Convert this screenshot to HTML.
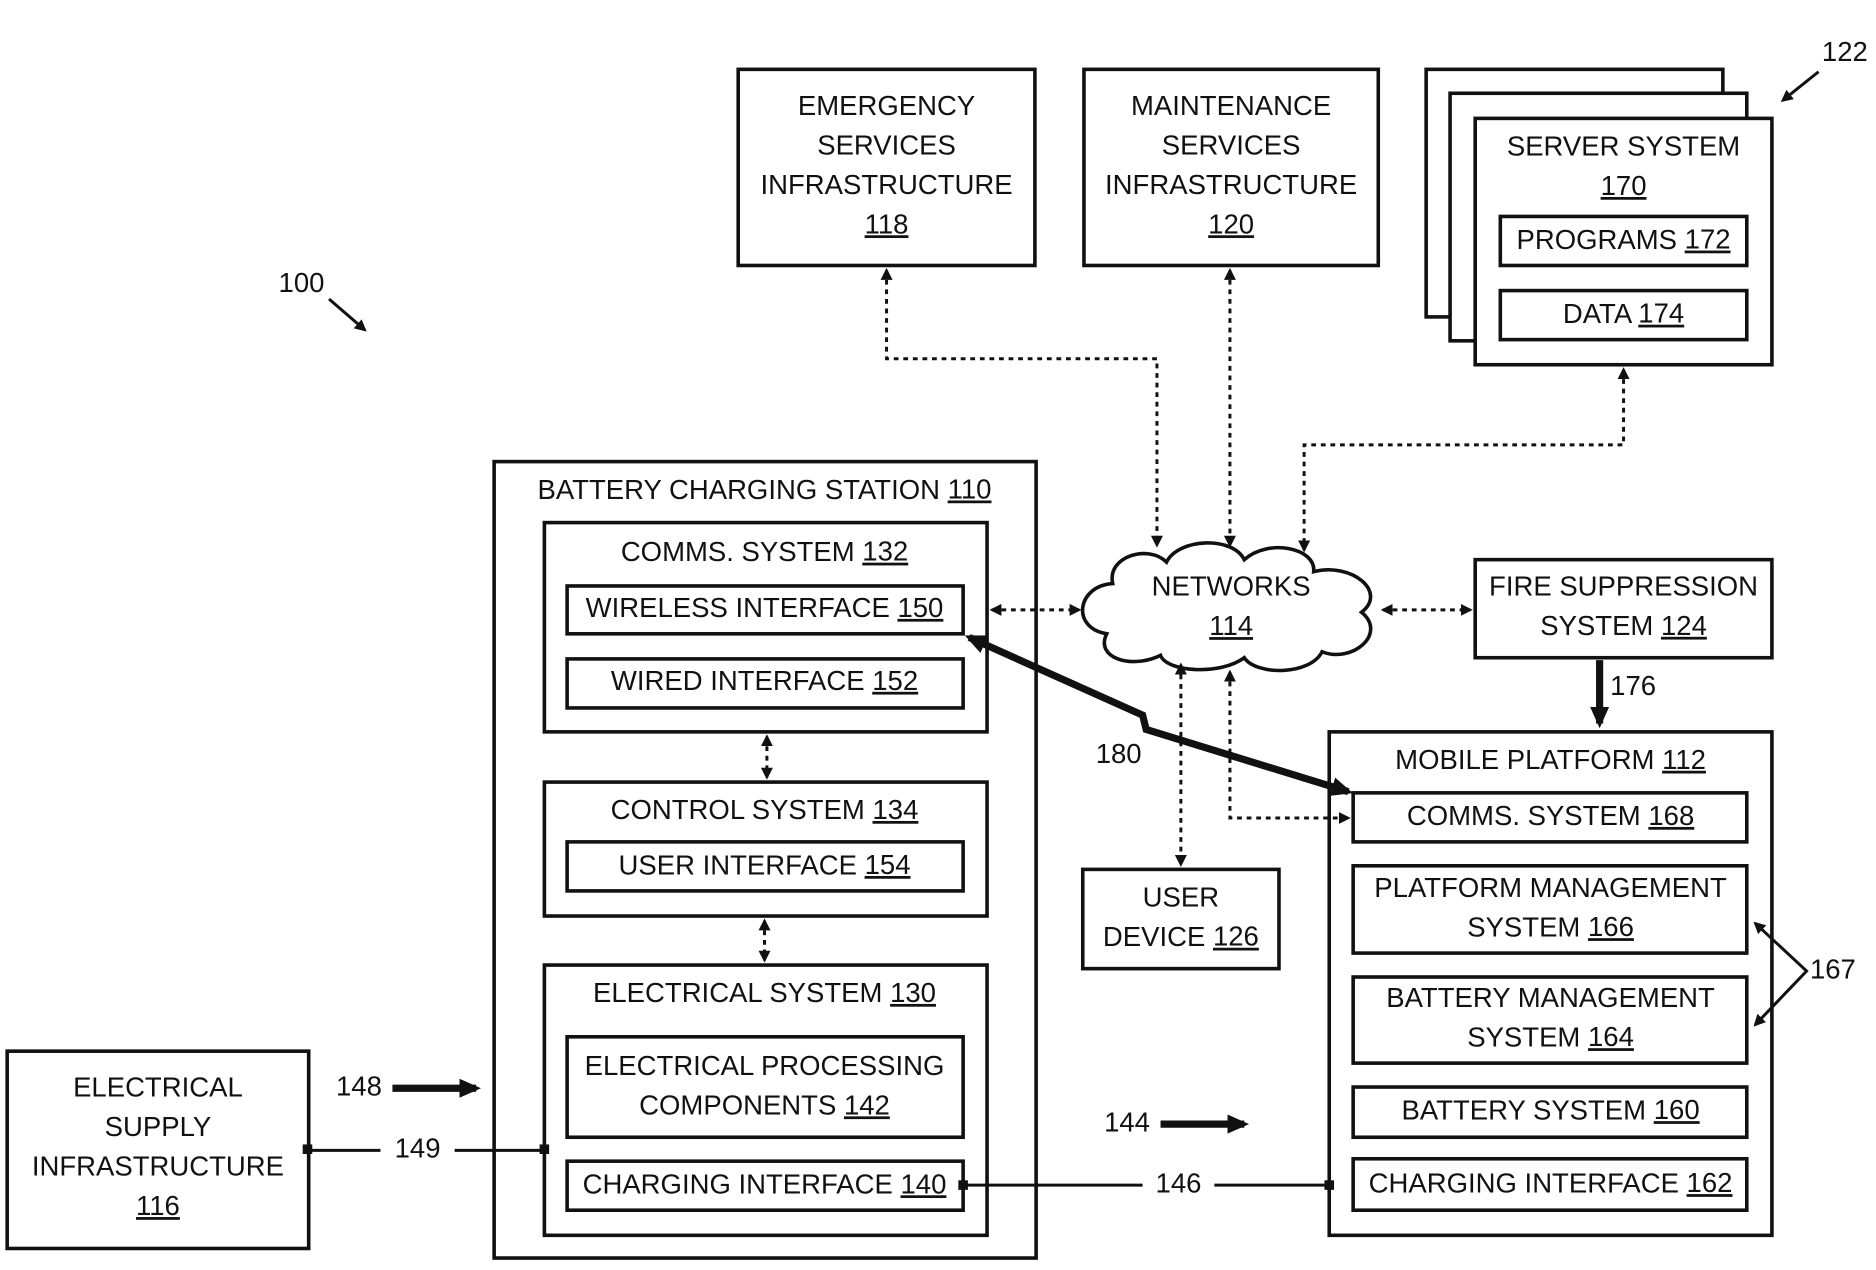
<!DOCTYPE html>
<html><head><meta charset="utf-8"><style>
html,body{margin:0;padding:0;background:#fff;}
svg{display:block;}
text{font-family:"Liberation Sans",sans-serif;font-size:23px;fill:#111;text-anchor:middle;dominant-baseline:middle;}
.b{fill:#fff;stroke:#111;stroke-width:3;}
.d{fill:none;stroke:#111;stroke-width:2.5;stroke-dasharray:4 4;}
.s{fill:none;stroke:#111;stroke-width:2.5;}
.t{fill:none;stroke:#111;stroke-width:6;}
</style></head><body>
<svg width="1876" height="1270" viewBox="0 0 1568 1062" preserveAspectRatio="none" xmlns="http://www.w3.org/2000/svg">
<defs>
<marker id="a" markerWidth="10" markerHeight="10" refX="8" refY="5" orient="auto-start-reverse" markerUnits="userSpaceOnUse"><path d="M0,0 L10,5 L0,10 z" fill="#111"/></marker>
<marker id="A" markerWidth="20" markerHeight="20" refX="14" refY="10" orient="auto-start-reverse" markerUnits="userSpaceOnUse"><path d="M0,2 L18,10 L0,18 z" fill="#111"/></marker>
</defs>
<!-- top boxes -->
<rect class="b" x="617" y="58" width="248" height="164"/>
<text x="741" y="90">EMERGENCY</text><text x="741" y="123">SERVICES</text><text x="741" y="156">INFRASTRUCTURE</text><text x="741" y="189" text-decoration="underline">118</text>
<rect class="b" x="906" y="58" width="246" height="164"/>
<text x="1029" y="90">MAINTENANCE</text><text x="1029" y="123">SERVICES</text><text x="1029" y="156">INFRASTRUCTURE</text><text x="1029" y="189" text-decoration="underline">120</text>
<rect class="b" x="1192" y="58" width="248" height="207"/>
<rect class="b" x="1212" y="78" width="248" height="207"/>
<rect class="b" x="1233" y="99" width="248" height="206"/>
<text x="1357" y="124">SERVER SYSTEM</text><text x="1357" y="157" text-decoration="underline">170</text>
<rect class="b" x="1254" y="181" width="206" height="41"/><text x="1357" y="202">PROGRAMS <tspan text-decoration="underline">172</tspan></text>
<rect class="b" x="1254" y="243" width="206" height="41"/><text x="1357" y="264">DATA <tspan text-decoration="underline">174</tspan></text>
<text x="1542" y="45">122</text><line class="s" x1="1520" y1="60" x2="1490" y2="84" marker-end="url(#a)"/>
<text x="252" y="238">100</text><line class="s" x1="275" y1="250" x2="305" y2="276" marker-end="url(#a)"/>
<!-- battery charging station -->
<rect class="b" x="413" y="386" width="453" height="666"/>
<text x="639" y="411">BATTERY CHARGING STATION <tspan text-decoration="underline">110</tspan></text>
<rect class="b" x="455" y="437" width="370" height="175"/>
<text x="639" y="463">COMMS. SYSTEM <tspan text-decoration="underline">132</tspan></text>
<rect class="b" x="474" y="490" width="331" height="40"/><text x="639" y="510">WIRELESS INTERFACE <tspan text-decoration="underline">150</tspan></text>
<rect class="b" x="474" y="551" width="331" height="41"/><text x="639" y="571">WIRED INTERFACE <tspan text-decoration="underline">152</tspan></text>
<rect class="b" x="455" y="654" width="370" height="112"/>
<text x="639" y="679">CONTROL SYSTEM <tspan text-decoration="underline">134</tspan></text>
<rect class="b" x="474" y="704" width="331" height="41"/><text x="639" y="725">USER INTERFACE <tspan text-decoration="underline">154</tspan></text>
<rect class="b" x="455" y="807" width="370" height="226"/>
<text x="639" y="832">ELECTRICAL SYSTEM <tspan text-decoration="underline">130</tspan></text>
<rect class="b" x="474" y="867" width="331" height="84"/><text x="639" y="893">ELECTRICAL PROCESSING</text><text x="639" y="926">COMPONENTS <tspan text-decoration="underline">142</tspan></text>
<rect class="b" x="474" y="971" width="331" height="41"/><text x="639" y="992">CHARGING INTERFACE <tspan text-decoration="underline">140</tspan></text>
<line class="d" x1="641" y1="616" x2="641" y2="650" marker-start="url(#a)" marker-end="url(#a)"/>
<line class="d" x1="639" y1="770" x2="639" y2="803" marker-start="url(#a)" marker-end="url(#a)"/>
<!-- electrical supply -->
<rect class="b" x="6" y="879" width="252" height="165"/>
<text x="132" y="911">ELECTRICAL</text><text x="132" y="944">SUPPLY</text><text x="132" y="977">INFRASTRUCTURE</text><text x="132" y="1010" text-decoration="underline">116</text>
<text x="300" y="910">148</text><line class="t" x1="328" y1="910" x2="398" y2="910" marker-end="url(#A)"/>
<line class="s" x1="258" y1="962" x2="318" y2="962"/><text x="349" y="962">149</text><line class="s" x1="380" y1="962" x2="455" y2="962"/>
<rect x="253" y="957" width="8" height="8" fill="#111"/><rect x="451" y="957" width="8" height="8" fill="#111"/>
<!-- networks cloud -->
<path class="b" d="M925,530 C895,525 900,490 930,488 C925,465 960,455 975,470 C985,450 1030,448 1040,468 C1060,450 1100,458 1098,478 C1130,470 1160,495 1138,512 C1160,530 1130,555 1105,545 C1095,565 1050,565 1040,550 C1020,565 975,562 970,548 C945,560 915,550 925,530 z"/>
<text x="1029" y="492">NETWORKS</text><text x="1029" y="525" text-decoration="underline">114</text>
<!-- fire suppression -->
<rect class="b" x="1233" y="468" width="248" height="82"/>
<text x="1357" y="492">FIRE SUPPRESSION</text><text x="1357" y="525">SYSTEM <tspan text-decoration="underline">124</tspan></text>
<line class="t" x1="1337" y1="552" x2="1337" y2="605" marker-end="url(#A)"/><text x="1365" y="575">176</text>
<!-- mobile platform -->
<rect class="b" x="1111" y="612" width="370" height="421"/>
<text x="1296" y="637">MOBILE PLATFORM <tspan text-decoration="underline">112</tspan></text>
<rect class="b" x="1131" y="663" width="329" height="41"/><text x="1296" y="684">COMMS. SYSTEM <tspan text-decoration="underline">168</tspan></text>
<rect class="b" x="1131" y="724" width="329" height="73"/><text x="1296" y="744">PLATFORM MANAGEMENT</text><text x="1296" y="777">SYSTEM <tspan text-decoration="underline">166</tspan></text>
<rect class="b" x="1131" y="817" width="329" height="72"/><text x="1296" y="836">BATTERY MANAGEMENT</text><text x="1296" y="869">SYSTEM <tspan text-decoration="underline">164</tspan></text>
<rect class="b" x="1131" y="909" width="329" height="42"/><text x="1296" y="930">BATTERY SYSTEM <tspan text-decoration="underline">160</tspan></text>
<rect class="b" x="1131" y="969" width="329" height="43"/><text x="1296" y="991">CHARGING INTERFACE <tspan text-decoration="underline">162</tspan></text>
<polyline class="s" points="1467,772 1510,812 1467,857" marker-start="url(#a)" marker-end="url(#a)"/><text x="1532" y="812">167</text>
<!-- user device -->
<rect class="b" x="905" y="727" width="164" height="83"/>
<text x="987" y="752">USER</text><text x="987" y="785">DEVICE <tspan text-decoration="underline">126</tspan></text>
<!-- dotted connectors -->
<polyline class="d" points="741,226 741,300 967,300 967,456" marker-start="url(#a)" marker-end="url(#a)"/>
<line class="d" x1="1028" y1="226" x2="1028" y2="456" marker-start="url(#a)" marker-end="url(#a)"/>
<polyline class="d" points="1357,309 1357,372 1090,372 1090,460" marker-start="url(#a)" marker-end="url(#a)"/>
<line class="d" x1="829" y1="510" x2="902" y2="510" marker-start="url(#a)" marker-end="url(#a)"/>
<line class="d" x1="1156" y1="510" x2="1229" y2="510" marker-start="url(#a)" marker-end="url(#a)"/>
<line class="d" x1="987" y1="556" x2="987" y2="723" marker-start="url(#a)" marker-end="url(#a)"/>
<polyline class="d" points="1028,562 1028,684 1127,684" marker-start="url(#a)" marker-end="url(#a)"/>
<!-- wireless 180 -->
<polyline class="t" points="810,533 955,598 958,610 1127,662" marker-start="url(#A)" marker-end="url(#A)"/>
<text x="935" y="632">180</text>
<!-- 144 / 146 -->
<text x="942" y="940">144</text><line class="t" x1="970" y1="940" x2="1040" y2="940" marker-end="url(#A)"/>
<line class="s" x1="805" y1="991" x2="955" y2="991"/><text x="985" y="991">146</text><line class="s" x1="1015" y1="991" x2="1111" y2="991"/>
<rect x="801" y="987" width="8" height="8" fill="#111"/><rect x="1107" y="987" width="8" height="8" fill="#111"/>
</svg>
</body></html>
